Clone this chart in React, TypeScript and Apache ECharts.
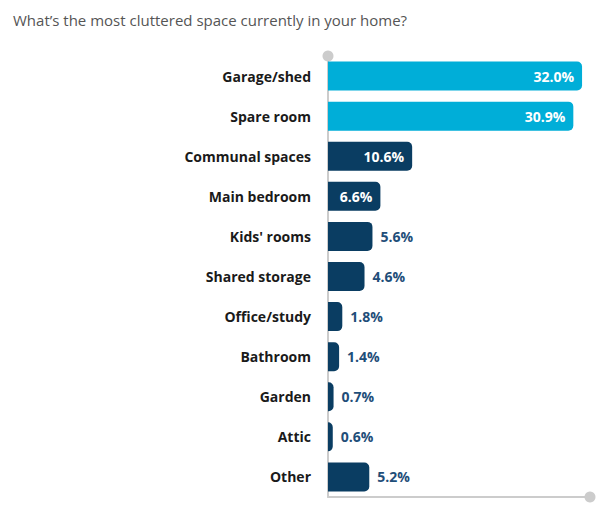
import React, { useEffect, useRef } from "react";
import * as echarts from "echarts";

const categories = [
  "Garage/shed",
  "Spare room",
  "Communal spaces",
  "Main bedroom",
  "Kids' rooms",
  "Shared storage",
  "Office/study",
  "Bathroom",
  "Garden",
  "Attic",
  "Other",
];
const values = [32.0, 30.9, 10.6, 6.6, 5.6, 4.6, 1.8, 1.4, 0.7, 0.6, 5.2];
const highlighted = [true, true, false, false, false, false, false, false, false, false, false];

const LIGHT = "#00AED8";
const DARK = "#0A3D62";
const FONT = "Open Sans";

export default function App() {
  const ref = useRef<HTMLDivElement>(null);
  useEffect(() => {
    if (!ref.current) return;
    const chart = echarts.init(ref.current, null, { renderer: "svg" });
    const cats = [...categories].reverse();
    const data = values
      .map((v, i) => ({
        value: v,
        itemStyle: { color: highlighted[i] ? LIGHT : DARK, borderRadius: [0, 5, 5, 0] },
        label:
          v >= 6
            ? { position: "insideRight", color: "#ffffff", distance: 8 }
            : { position: "right", color: "#1F4E79", distance: 8 },
      }))
      .reverse();
    chart.setOption({
      animation: false,
      title: {
        text: "What\u2019s the most cluttered space currently in your home?",
        left: 8,
        top: 7,
        textStyle: { fontFamily: FONT, fontSize: 15, fontWeight: "normal", color: "#555555" },
      },
      grid: { left: 328, right: 10, top: 56, bottom: 20, containLabel: false },
      xAxis: {
        type: "value",
        min: 0,
        max: 33,
        splitLine: { show: false },
        axisLabel: { show: false },
        axisTick: { show: false },
        axisLine: {
          show: true,
          lineStyle: { color: "#cccccc", width: 2 },
          symbol: ["none", "circle"],
          symbolSize: [11, 11],
        },
      },
      yAxis: {
        type: "category",
        data: cats,
        axisTick: { show: false },
        axisLine: {
          show: true,
          lineStyle: { color: "#cccccc", width: 2 },
          symbol: ["none", "circle"],
          symbolSize: [11, 11],
        },
        axisLabel: {
          margin: 17,
          fontFamily: FONT,
          fontSize: 14,
          fontWeight: "bold",
          color: "#1a1a1a",
        },
      },
      series: [
        {
          type: "bar",
          data,
          barWidth: 29,
          label: {
            show: true,
            fontFamily: FONT,
            fontSize: 14,
            fontWeight: "bold",
            formatter: (p: any) => p.value.toFixed(1) + "%",
          },
        },
      ],
    });
    return () => chart.dispose();
  }, []);
  return (
    <div
      ref={ref}
      style={{ position: "fixed", left: 0, top: 0, width: 600, height: 517, background: "#fff" }}
    />
  );
}
